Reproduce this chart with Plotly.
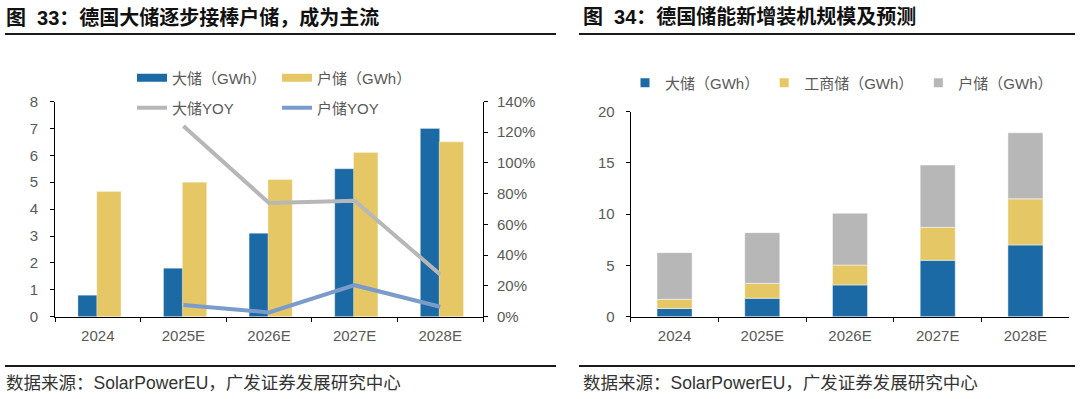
import numpy as np
import plotly.graph_objects as go

W, H = 1080, 399

years = ["2024", "2025E", "2026E", "2027E", "2028E"]
big = [0.8, 1.8, 3.1, 5.5, 7.0]          # 大储 GWh
home = [4.65, 5.0, 5.1, 6.1, 6.5]        # 户储 GWh (left chart)
ci = [0.9, 1.45, 1.94, 3.22, 4.5]        # 工商储 GWh
home_r = [4.55, 4.95, 5.05, 6.08, 6.44]  # 户储 GWh (right chart)
big_yoy = [1.24, 0.74, 0.755, 0.275]     # 大储YOY (2025E-2028E)
home_yoy = [0.076, 0.028, 0.205, 0.065]  # 户储YOY (2025E-2028E)
left_ticks = [0, 1, 2, 3, 4, 5, 6, 7, 8]
pct_ticks = [0, 0.2, 0.4, 0.6, 0.8, 1.0, 1.2, 1.4]
right_ticks = [0, 5, 10, 15, 20]

BLUE = "#1B6AA5"
YEL = "#E5C865"
GRAY = "#B7B7B7"
LBLUE = "#7B9BCB"
TXT = "#595959"
FONT = "Liberation Sans, Noto Sans CJK SC"

def px(x):
    return x / W

def py(y):
    return (H - y) / H

fig = go.Figure()

# ---------- left chart ----------
fig.add_trace(go.Bar(x=years, y=big, xaxis="x", yaxis="y", width=0.225, offset=-0.232,
                     marker=dict(color=BLUE, line=dict(color="rgba(255,255,255,0.5)", width=0.6)),
                     showlegend=False, name="大储（GWh）"))
fig.add_trace(go.Bar(x=years, y=home, xaxis="x", yaxis="y", width=0.284, offset=-0.012,
                     marker=dict(color=YEL, line=dict(color="rgba(255,255,255,0.5)", width=0.6)),
                     showlegend=False, name="户储（GWh）"))
fig.add_trace(go.Scatter(x=years[1:], y=big_yoy, xaxis="x", yaxis="y2", mode="lines",
                         line=dict(color=GRAY, width=4), name="大储YOY", legend="legend2"))
fig.add_trace(go.Scatter(x=years[1:], y=home_yoy, xaxis="x", yaxis="y2", mode="lines",
                         line=dict(color=LBLUE, width=4), name="户储YOY", legend="legend2"))
# legend swatches for bars
fig.add_trace(go.Scatter(x=[None], y=[None], xaxis="x", yaxis="y", mode="lines",
                         line=dict(color=BLUE, width=8), name="大储（GWh）", legend="legend"))
fig.add_trace(go.Scatter(x=[None], y=[None], xaxis="x", yaxis="y", mode="lines",
                         line=dict(color=YEL, width=8), name="户储（GWh）", legend="legend"))

# ---------- right chart ----------
b1 = np.array(big)
b2 = b1 + np.array(ci)
fig.add_trace(go.Bar(x=years, y=big, xaxis="x3", yaxis="y3", width=0.4,
                     marker=dict(color=BLUE, line=dict(color="rgba(255,255,255,0.6)", width=0.8)),
                     showlegend=False, name="大储（GWh）"))
fig.add_trace(go.Bar(x=years, y=ci, base=b1, xaxis="x3", yaxis="y3", width=0.4,
                     marker=dict(color=YEL, line=dict(color="rgba(255,255,255,0.6)", width=0.8)),
                     showlegend=False, name="工商储（GWh）"))
fig.add_trace(go.Bar(x=years, y=home_r, base=b2, xaxis="x3", yaxis="y3", width=0.4,
                     marker=dict(color=GRAY, line=dict(color="rgba(255,255,255,0.6)", width=0.8)),
                     showlegend=False, name="户储（GWh）"))
for nm, col in [("大储（GWh）", BLUE), ("工商储（GWh）", YEL), ("户储（GWh）", GRAY)]:
    fig.add_trace(go.Scatter(x=[None], y=[None], xaxis="x3", yaxis="y3", mode="markers",
                             marker=dict(color=col, symbol="square", size=9), name=nm,
                             legend="legend3"))

axis_common = dict(showgrid=False, zeroline=False, linecolor="#000000", linewidth=1,
                   ticks="outside", ticklen=4, tickcolor="#000000", automargin=False,
                   tickfont=dict(family=FONT, size=15, color=TXT))

leg_common = dict(orientation="h", xanchor="left", yanchor="middle",
                  bgcolor="rgba(0,0,0,0)", borderwidth=0,
                  font=dict(family=FONT, size=15, color=TXT), itemclick=False,
                  itemdoubleclick=False)

fig.update_layout(
    template="none",
    width=W, height=H,
    margin=dict(l=0, r=0, t=0, b=0, pad=0, autoexpand=False),
    paper_bgcolor="white", plot_bgcolor="white",
    barmode="overlay",
    font=dict(family=FONT, size=15, color=TXT),
    xaxis=dict(domain=[px(55), px(483)], type="category", showline=True,
               tickson="boundaries", anchor="y", ticklabelstandoff=5, **axis_common),
    yaxis=dict(domain=[py(316.7), py(101.5)], range=[0, 8], tickvals=left_ticks,
               showline=True, anchor="x", ticklabelstandoff=9, **axis_common),
    yaxis2=dict(domain=[py(316.7), py(101.5)], range=[0, 1.4], overlaying="y", side="right",
                tickvals=pct_ticks, tickformat=".0%", ticklabelstandoff=6,
                showline=True, anchor="x", **axis_common),
    xaxis3=dict(domain=[px(630.7), px(1069.3)], type="category", showline=True,
                tickson="boundaries", anchor="y3", ticklabelstandoff=5, **axis_common),
    yaxis3=dict(domain=[py(316.7), py(111.7)], range=[0, 20], tickvals=right_ticks,
                showline=True, anchor="x3", ticklabelstandoff=8, **axis_common),
    legend=dict(x=px(132), y=py(78), entrywidth=100, entrywidthmode="pixels", **leg_common),
    legend2=dict(x=px(132), y=py(108), entrywidth=100, entrywidthmode="pixels", **leg_common),
    legend3=dict(x=px(625), y=py(83), **leg_common),
)

# titles
TFONT = dict(family="Liberation Sans, Noto Sans CJK SC", size=20, color="#111111")
fig.add_annotation(text="<b>图  33：德国大储逐步接棒户储，成为主流</b>", x=px(4), y=py(17),
                   xref="paper", yref="paper", xanchor="left", yanchor="middle",
                   showarrow=False, font=TFONT)
fig.add_annotation(text="<b>图  34：德国储能新增装机规模及预测</b>", x=px(581), y=py(17),
                   xref="paper", yref="paper", xanchor="left", yanchor="middle",
                   showarrow=False, font=TFONT)
# sources
SFONT = dict(family="Liberation Sans, Noto Sans CJK SC", size=17.5, color="#333333")
for x0 in (4, 581):
    fig.add_annotation(text="数据来源：SolarPowerEU，广发证券发展研究中心", x=px(x0), y=py(383),
                       xref="paper", yref="paper", xanchor="left", yanchor="middle",
                       showarrow=False, font=SFONT)
# rules
for (x0, x1) in ((5, 556), (579, 1075)):
    for yy in (34, 366):
        fig.add_shape(type="line", xref="paper", yref="paper", x0=px(x0), x1=px(x1),
                      y0=py(yy), y1=py(yy), line=dict(color="#1a1a1a", width=2))

fig.write_html("out.html", config={"displayModeBar": False, "staticPlot": True},
               post_script="document.body.style.margin='0';document.body.style.overflow='hidden';")
